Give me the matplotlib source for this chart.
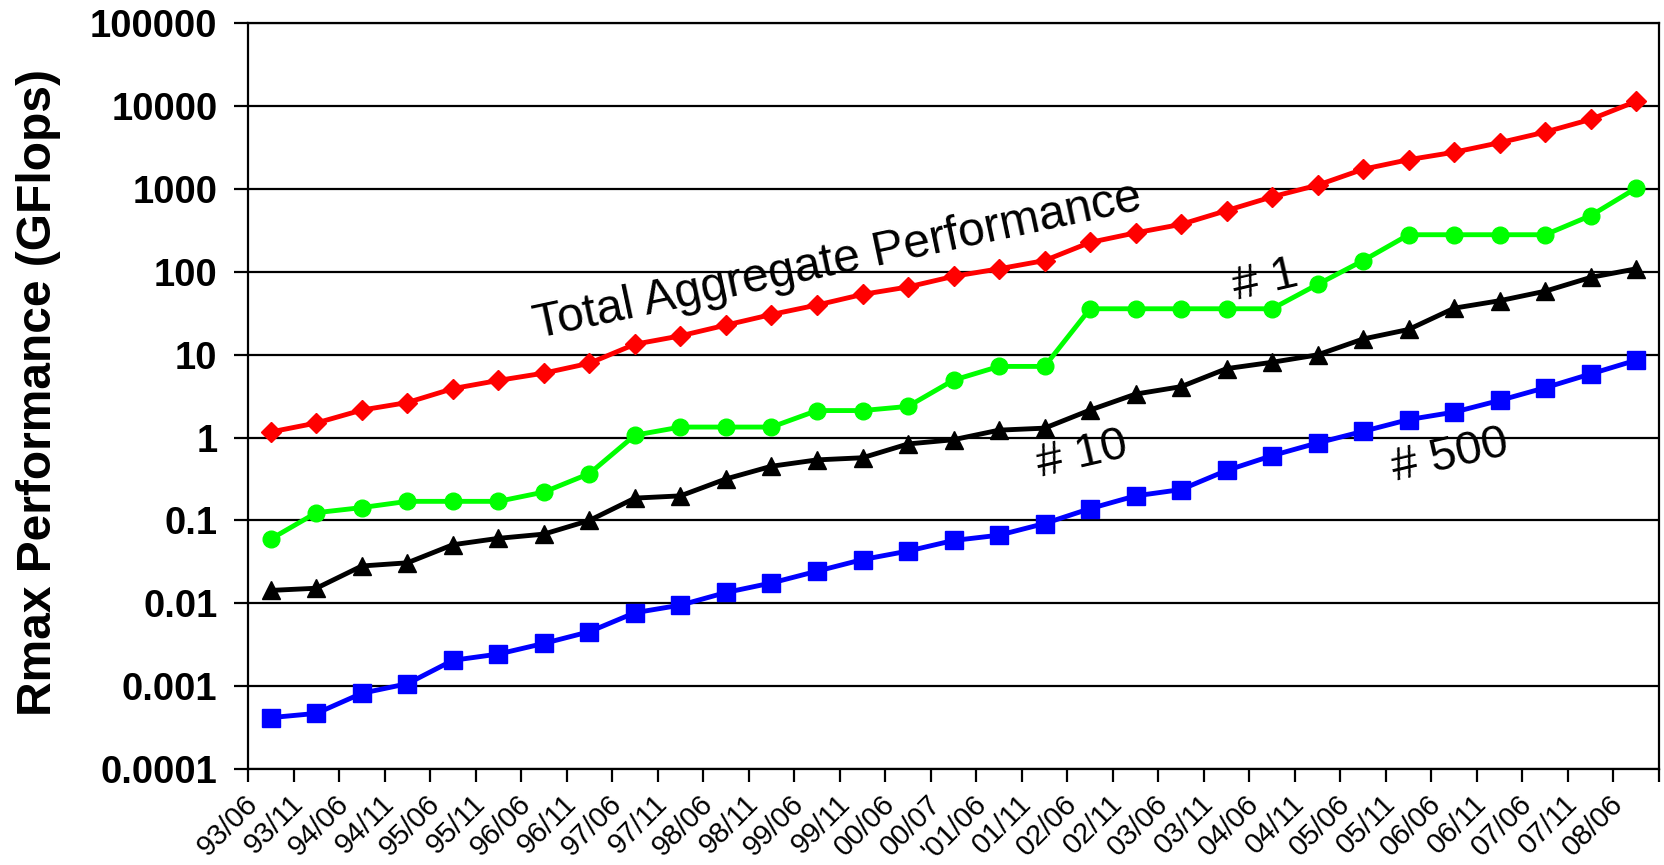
import numpy as np
import matplotlib
matplotlib.use("Agg")
import matplotlib.pyplot as plt
import matplotlib.transforms as mtransforms

# Data (TFlops on a GFlops-labelled axis, as in the original slide)
labels = ["93/06", "93/11", "94/06", "94/11", "95/06", "95/11", "96/06", "96/11",
          "97/06", "97/11", "98/06", "98/11", "99/06", "99/11", "00/06", "00/07",
          "'01/06", "01/11", "02/06", "02/11", "03/06", "03/11", "04/06", "04/11",
          "05/06", "05/11", "06/06", "06/11", "07/06", "07/11", "08/06"]

total = [1.17, 1.5, 2.15, 2.65, 3.9, 4.9, 6.0, 7.9, 13.4, 16.9, 22.8, 30.6, 39.8,
         53.5, 65.8, 88.4, 109, 137, 227, 296, 375, 550, 806, 1115, 1735, 2263,
         2783, 3630, 4873, 6938, 11460]
top1 = [0.0597, 0.124, 0.143, 0.170, 0.170, 0.170, 0.220, 0.368, 1.07, 1.34, 1.34,
        1.34, 2.12, 2.12, 2.38, 4.94, 7.23, 7.23, 35.9, 35.9, 35.9, 35.9, 35.9,
        70.7, 137, 281, 281, 281, 281, 478, 1026]
top10 = [0.0143, 0.0152, 0.0282, 0.0308, 0.0509, 0.0608, 0.0684, 0.100, 0.186,
         0.198, 0.317, 0.451, 0.538, 0.571, 0.838, 0.943, 1.23, 1.30, 2.15, 3.35,
         4.12, 6.80, 8.11, 9.97, 15.5, 20.2, 36.5, 44.9, 58.5, 85.8, 109]
top500 = [0.000417, 0.000469, 0.00082, 0.00107, 0.00205, 0.00244, 0.00328,
          0.00454, 0.0077, 0.0095, 0.0135, 0.0176, 0.0244, 0.0337, 0.0427, 0.0573,
          0.0664, 0.0918, 0.139, 0.198, 0.236, 0.401, 0.606, 0.863, 1.19, 1.65,
          2.03, 2.81, 4.0, 5.87, 8.6]

yticks = [1e-4, 1e-3, 1e-2, 1e-1, 1, 10, 100, 1000, 10000, 100000]
ytick_labels = ["0.0001", "0.001", "0.01", "0.1", "1", "10", "100", "1000",
                "10000", "100000"]

plt.rcParams["font.family"] = ["Liberation Sans", "DejaVu Sans"]

fig = plt.figure(figsize=(16.65, 8.65), dpi=100)
ax = fig.add_axes([0.149, 0.111, 0.8474, 0.862])

x = np.arange(len(labels))
ax.plot(x, total, color="#ff0000", lw=3.5, marker="D", ms=10, zorder=3)
ax.plot(x, top1, color="#00ff00", lw=3.5, marker="o", ms=12, zorder=3)
ax.plot(x, top10, color="black", lw=3.5, marker="^", ms=13, zorder=3)
ax.plot(x, top500, color="#0000ff", lw=3.5, marker="s", ms=12.5, zorder=3)

ax.set_yscale("log")
ax.set_ylim(1e-4, 1e5)
ax.set_xlim(-0.5, len(labels) - 0.5)

# horizontal grid at every decade
ax.set_yticks(yticks)
ax.set_yticklabels(ytick_labels, fontsize=27.5, fontweight="bold")
ax.yaxis.set_minor_locator(matplotlib.ticker.NullLocator())
ax.grid(axis="y", color="black", lw=1.6)
ax.set_axisbelow(True)
ax.tick_params(axis="y", length=10, width=1.6, pad=12)

# category boundaries as ticks, labels drawn separately
ax.set_xticks(np.arange(len(labels) + 1) - 0.5)
ax.set_xticklabels([])
ax.tick_params(axis="x", length=9, width=1.6)
off = mtransforms.ScaledTranslation(-27 / 100, -21 / 100, fig.dpi_scale_trans)
for i, lab in enumerate(labels):
    ax.text(i, 0, lab, transform=ax.get_xaxis_transform() + off, rotation=45,
            rotation_mode="anchor", ha="right", va="top", fontsize=21)

for s in ax.spines.values():
    s.set_linewidth(1.6)

ax.set_ylabel("Rmax Performance (GFlops)", fontsize=34.5, fontweight="bold",
              rotation=90, rotation_mode="anchor", ha="left", va="baseline")
ax.yaxis.set_label_coords(-0.1396, 0.071)

ax.text(5.85, 16.0, "Total Aggregate Performance", fontsize=34.5, rotation=12,
        rotation_mode="anchor", ha="left", va="baseline")
ax.text(21.2, 46, "# 1", fontsize=34, rotation=13, rotation_mode="anchor",
        ha="left", va="baseline")
ax.text(16.9, 0.336, "# 10", fontsize=34, rotation=13, rotation_mode="anchor",
        ha="left", va="baseline")
ax.text(24.7, 0.3, "# 500", fontsize=34, rotation=13, rotation_mode="anchor",
        ha="left", va="baseline")

fig.savefig("out.png", dpi=100)
